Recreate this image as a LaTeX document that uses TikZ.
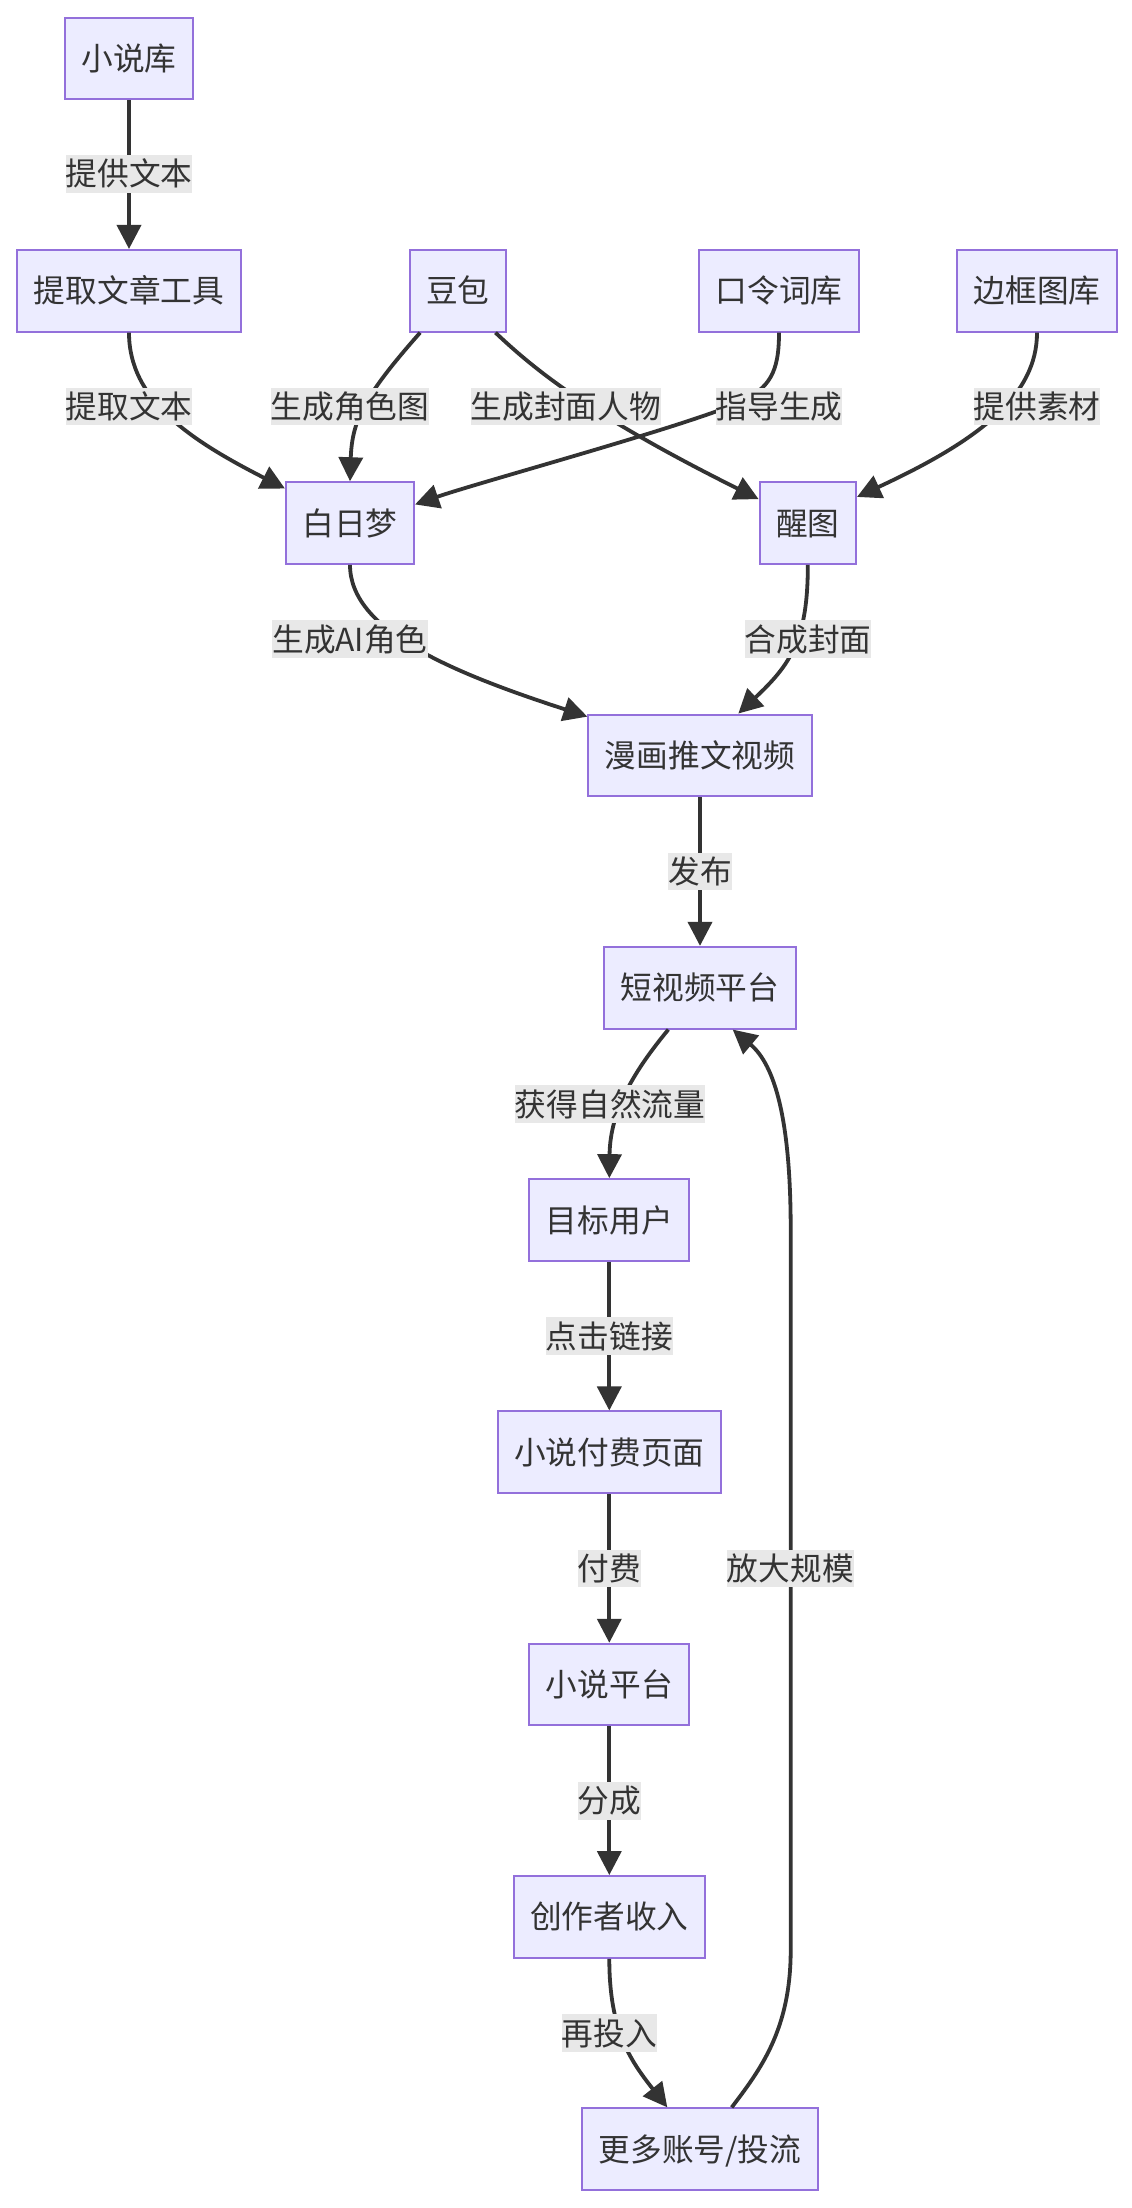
\documentclass[tikz,border=0pt]{standalone}
\usepackage{fontspec}
\newfontfamily\cjkfont{Noto Sans CJK SC}
\usetikzlibrary{arrows.meta}
\definecolor{nodefill}{HTML}{ECECFF}
\definecolor{nodeline}{HTML}{9370DB}
\definecolor{edgecol}{HTML}{333333}
\definecolor{labelbg}{HTML}{E8E8E8}
\definecolor{txtcol}{HTML}{333333}
\begin{document}
\begin{tikzpicture}[x=1pt,y=-1pt,
  box/.style={draw=nodeline, fill=nodefill, line width=2pt, minimum height=81.7pt,
    inner xsep=16.5pt, inner ysep=0pt, text height=27.9pt, text depth=3.8pt,
    font=\cjkfont\fontsize{31.7pt}{38pt}\selectfont, text=txtcol},
  elabel/.style={fill=labelbg, inner xsep=0pt, inner ysep=2.95pt, text height=27.9pt,
    text depth=3.8pt, font=\cjkfont\fontsize{31.7pt}{38pt}\selectfont, text=txtcol},
  edge/.style={draw=edgecol, line width=3.8pt, -{Triangle[length=24pt,width=24pt]}}
]
\fill[white] (0,0) rectangle (1132,2208);
\useasboundingbox (0,0) rectangle (1132,2208);

% nodes
\node[box] (xsk)  at (129,58.5)    {小说库};
\node[box] (tq)   at (129,290.8)   {提取文章工具};
\node[box] (db)   at (457.8,290.8) {豆包};
\node[box] (kl)   at (779,290.8)   {口令词库};
\node[box] (bk)   at (1037,290.8)  {边框图库};
\node[box] (bai)  at (350,523.1)   {白日梦};
\node[box] (xt)   at (807.8,523.1) {醒图};
\node[box] (mh)   at (700,755.4)   {漫画推文视频};
\node[box] (dsp)  at (700,987.7)   {短视频平台};
\node[box] (mb)   at (609.3,1220)  {目标用户};
\node[box] (ff)   at (609.3,1452.3){小说付费页面};
\node[box] (xp)   at (609.3,1684.6){小说平台};
\node[box] (cz)   at (609.3,1916.9){创作者收入};
\node[box] (more) at (700,2149.2)  {更多账号/投流};

% edges
\draw[edge] (xsk.south) -- (tq.north);
\draw[edge] (tq.south) .. controls (129,400) and (190,440) .. (bai.152);
\draw[edge] (db.228) .. controls (365,395) and (352,420) .. (bai.north);
\draw[edge] (db.-48) .. controls (535,370) and (590,415) .. (xt.154);
\draw[edge] (kl.south) .. controls (779,372) and (770,388) .. (740,402)
   .. controls (690,425) and (480,482) .. (bai.16);
\draw[edge] (bk.south) .. controls (1037,395) and (980,440) .. (xt.28);
\draw[edge] (bai.south) .. controls (350,630) and (450,672) .. (mh.161.5);
\draw[edge] (xt.south) .. controls (808,640) and (790,665) .. ([xshift=38.3pt]mh.north);
\draw[edge] (mh.south) -- (dsp.north);
\draw[edge] ([xshift=-31.7pt]dsp.south) .. controls (635,1070) and (610,1110) .. (mb.north);
\draw[edge] (mb.south) -- (ff.north);
\draw[edge] (ff.south) -- (xp.north);
\draw[edge] (xp.south) -- (cz.north);
\draw[edge] (cz.south) .. controls (609.3,2030) and (630,2060) .. ([xshift=-32.7pt]more.north);
\draw[edge] ([xshift=31.7pt]more.north) .. controls (760,2070) and (790.7,2030) .. (790.7,1950)
   -- (790.7,1230) .. controls (790.7,1120) and (775,1065) .. ([xshift=32.7pt]dsp.south);

% edge labels
\node[elabel] (l1)  at (129,173.8)    {提供文本};
\node[elabel] (l2)  at (129,406.3)    {提取文本};
\node[elabel] (l3)  at (350,406.3)    {生成角色图};
\node[elabel] (l4)  at (565.8,406.3)  {生成封面人物};
\node[elabel] (l5)  at (779,406.3)    {指导生成};
\node[elabel] (l6)  at (1037,406.3)   {提供素材};
\node[elabel] (l7)  at (350,639)      {生成AI角色};
\node[elabel] (l8)  at (808,639)      {合成封面};
\node[elabel] (l9)  at (700,871.5)    {发布};
\node[elabel] (l10) at (610,1104)     {获得自然流量};
\node[elabel] (l11) at (609.3,1336)   {点击链接};
\node[elabel] (l12) at (609.3,1568.4) {付费};
\node[elabel] (l13) at (790.3,1568.4) {放大规模};
\node[elabel] (l14) at (609.3,1800.7) {分成};
\node[elabel] (l15) at (609.3,2033)   {再投入};
\end{tikzpicture}
\end{document}
